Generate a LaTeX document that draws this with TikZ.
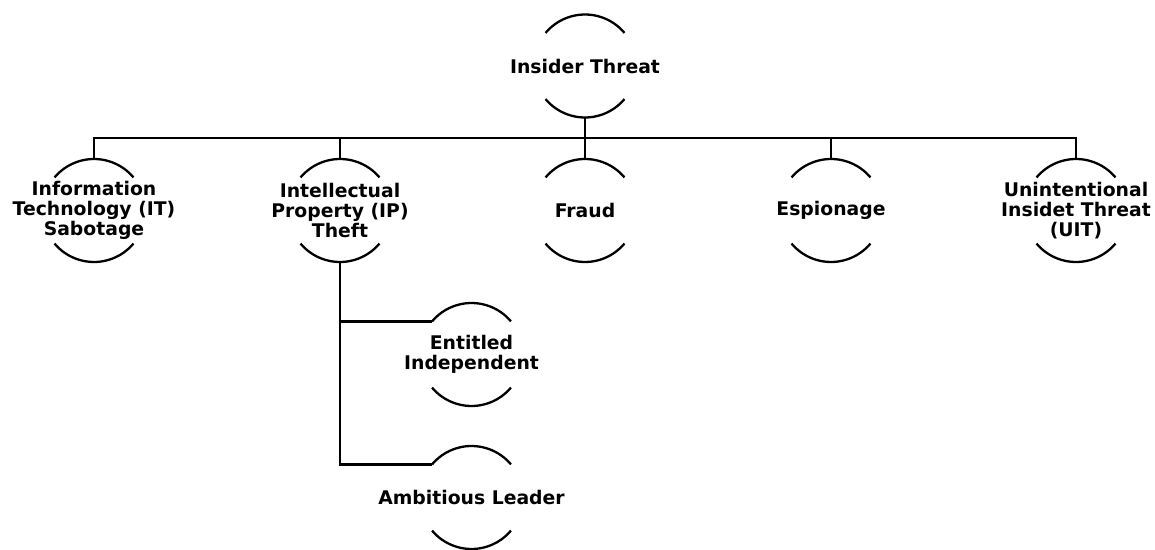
\documentclass[tikz,border=0pt]{standalone}
\usepackage{fontspec}
\setmainfont{DejaVu Sans}
\begin{document}
\begin{tikzpicture}[x=1pt,y=1pt,
  line width=2.5pt,
  role/.style={inner sep=0pt, align=center,
    font=\fontsize{18.8}{19.7}\selectfont\bfseries},
  rim/.style={line width=2.3pt}]
\useasboundingbox (0,0) rectangle (1155,549);

% threat categories
\node[role] (top)   at (585,483)   {Insider Threat};
\node[role] (it)    at (94,338.5)  {Information\\Technology (IT)\\Sabotage};
\node[role] (ip)    at (340,338.5) {Intellectual\\Property (IP)\\Theft};
\node[role] (fraud) at (585,338.5) {Fraud};
\node[role] (esp)   at (831,338.5) {Espionage};
\node[role] (uit)   at (1076,338.5) {Unintentional\\Insidet Threat\\(UIT)};
\node[role] (ei)    at (471.5,194.5) {Entitled\\Independent};
\node[role] (al)    at (471.5,51.5)  {Ambitious Leader};

% upper and lower arcs around every label
\def\rr{51.5}
\foreach \n in {top,it,ip,fraud,esp,uit,ei,al}{
  \draw[rim] ([shift={(40:\rr)}]\n.center) arc[start angle=40, end angle=140, radius=\rr];
  \draw[rim] ([shift={(220:\rr)}]\n.center) arc[start angle=220, end angle=320, radius=\rr];
  \coordinate (\n-up) at ([yshift=\rr]\n.center);
  \coordinate (\n-dn) at ([yshift=-\rr]\n.center);
  \coordinate (\n-in) at ([shift={(140:\rr)}]\n.center);
}

% tree connectors
\coordinate (bus) at (0,411);
\draw (top-dn) -- (top-dn |- bus);
\draw ([xshift=-1.25pt]it-up |- bus) -- ([xshift=1.25pt]uit-up |- bus);
\foreach \c in {it,ip,fraud,esp,uit}
  \draw (\c-up |- bus) -- (\c-up);

\draw (ip-dn) |- (al-in);
\draw (ip-dn |- ei-in) -- (ei-in);
\end{tikzpicture}
\end{document}
